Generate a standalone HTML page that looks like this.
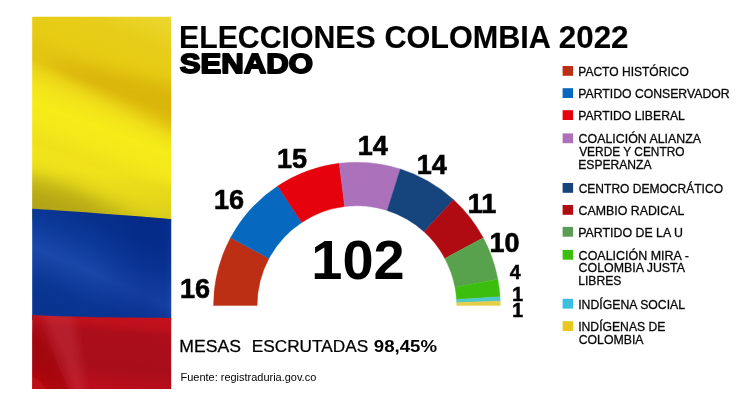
<!DOCTYPE html>
<html lang="es"><head><meta charset="utf-8"><title>Elecciones Colombia 2022 - Senado</title>
<style>
html,body{margin:0;padding:0;background:#fff;}
body{width:750px;height:413px;overflow:hidden;}
svg{display:block;}
text{font-family:"Liberation Sans",Arial,Helvetica,sans-serif;fill:#000;white-space:pre;}
.b{font-weight:bold;}
</style></head><body>
<svg width="750" height="413" viewBox="0 0 750 413">
<defs>
<linearGradient id="gy" gradientUnits="userSpaceOnUse" x1="49.9" y1="-30.7" x2="-39.7" y2="202.7"><stop offset="0.000" stop-color="#ecd832"/><stop offset="0.140" stop-color="#e7cd18"/><stop offset="0.240" stop-color="#e7cc14"/><stop offset="0.320" stop-color="#e3c512"/><stop offset="0.360" stop-color="#e3c512"/><stop offset="0.400" stop-color="#ecd618"/><stop offset="0.448" stop-color="#f2e21a"/><stop offset="0.520" stop-color="#f5ec18"/><stop offset="0.592" stop-color="#f4e81a"/><stop offset="0.664" stop-color="#efe01a"/><stop offset="0.768" stop-color="#f6ea1e"/><stop offset="0.840" stop-color="#eee01e"/><stop offset="0.904" stop-color="#e6d820"/><stop offset="1.000" stop-color="#e0d022"/></linearGradient>
<linearGradient id="gb" gradientUnits="userSpaceOnUse" x1="53.5" y1="157.4" x2="-12.9" y2="313.9"><stop offset="0.000" stop-color="#062c8a"/><stop offset="0.253" stop-color="#08328f"/><stop offset="0.371" stop-color="#0c3a9a"/><stop offset="0.465" stop-color="#1442a4"/><stop offset="0.535" stop-color="#1a48aa"/><stop offset="0.618" stop-color="#123fa0"/><stop offset="0.712" stop-color="#0a3694"/><stop offset="0.841" stop-color="#083490"/><stop offset="1.000" stop-color="#0a3696"/></linearGradient>
<linearGradient id="gr" gradientUnits="userSpaceOnUse" x1="33.0" y1="303.0" x2="25.0" y2="394.7"><stop offset="0.000" stop-color="#c6111d"/><stop offset="0.152" stop-color="#be101c"/><stop offset="0.239" stop-color="#ac0e1a"/><stop offset="0.609" stop-color="#a80e1a"/><stop offset="0.761" stop-color="#b40d1b"/><stop offset="1.000" stop-color="#c60e1c"/></linearGradient>
<clipPath id="fc"><rect x="32.2" y="16.8" width="139" height="372.1"/></clipPath>
<clipPath id="rc"><path d="M32 315 C55 316.5 95 317.3 172 318 L172 390 L32 390 Z"/></clipPath>
<linearGradient id="gol" gradientUnits="userSpaceOnUse" x1="100" y1="172" x2="97" y2="213.2"><stop offset="0" stop-color="#82730f" stop-opacity="0"/><stop offset="0.5" stop-color="#82730f" stop-opacity="0.1"/><stop offset="1" stop-color="#82730f" stop-opacity="0.24"/></linearGradient>
<linearGradient id="gbx" x1="0" y1="0" x2="1" y2="0"><stop offset="0" stop-color="#002080" stop-opacity="0"/><stop offset="0.45" stop-color="#002080" stop-opacity="0.05"/><stop offset="0.8" stop-color="#002080" stop-opacity="0.32"/><stop offset="0.95" stop-color="#002080" stop-opacity="0.25"/><stop offset="1" stop-color="#1040a0" stop-opacity="0.25"/></linearGradient>
<filter id="bl2" x="-50%" y="-100%" width="200%" height="300%"><feGaussianBlur stdDeviation="7"/></filter>
<filter id="bl3" x="-40%" y="-100%" width="180%" height="300%"><feGaussianBlur stdDeviation="11"/></filter>
<filter id="bl" x="-20%" y="-20%" width="140%" height="140%"><feGaussianBlur stdDeviation="4"/></filter>
</defs>
<rect width="750" height="413" fill="#fff"/>
<g clip-path="url(#fc)">
<rect x="32" y="16" width="140" height="205" fill="url(#gy)"/>
<path d="M55 61 L185 86 L185 140 L55 69 Z" fill="#cda000" opacity="0.4" filter="url(#bl2)"/>
<path d="M32 162 L172 172 L172 222 L32 212 Z" fill="url(#gol)"/>
<path d="M10 168 L70 184 L140 222 L10 222 Z" fill="#82730f" opacity="0.4" filter="url(#bl3)"/>
<path d="M32 208.8 C60 210.5 100 213.2 172 219.2 L172 320 L32 320 Z" fill="url(#gb)"/>
<path d="M32 208.8 C60 210.5 100 213.2 172 219.2 L172 320 L32 320 Z" fill="url(#gbx)"/>
<path d="M32 315 C55 316.5 95 317.3 172 318 L172 390 L32 390 Z" fill="url(#gr)"/>
<g clip-path="url(#rc)"><g filter="url(#bl)">
<path d="M40 308 L72 308 L86 396 L76 396 Z" fill="#cc3a44" opacity="0.36"/>
<path d="M20 326 L40 332 L76 398 L20 398 Z" fill="#9c0408" opacity="0.5"/>
<path d="M20 372 L40 380 L52 398 L20 398 Z" fill="#d01018" opacity="0.5"/>
</g></g>
</g>
<path d="M213.50 305.60A143.4 143.4 0 0 1 230.56 237.76L268.97 258.39A99.8 99.8 0 0 0 257.10 305.60Z" fill="#bd2f14" stroke="#bd2f14" stroke-width="0.4"/>
<path d="M230.56 237.76A143.4 143.4 0 0 1 277.69 186.06L301.77 222.41A99.8 99.8 0 0 0 268.97 258.39Z" fill="#0668be" stroke="#0668be" stroke-width="0.4"/>
<path d="M277.69 186.06A143.4 143.4 0 0 1 339.28 163.29L344.64 206.56A99.8 99.8 0 0 0 301.77 222.41Z" fill="#e5020d" stroke="#e5020d" stroke-width="0.4"/>
<path d="M339.28 163.29A143.4 143.4 0 0 1 400.37 168.95L387.15 210.50A99.8 99.8 0 0 0 344.64 206.56Z" fill="#ab72bb" stroke="#ab72bb" stroke-width="0.4"/>
<path d="M400.37 168.95A143.4 143.4 0 0 1 453.51 199.63L424.13 231.85A99.8 99.8 0 0 0 387.15 210.50Z" fill="#16447c" stroke="#16447c" stroke-width="0.4"/>
<path d="M453.51 199.63A143.4 143.4 0 0 1 483.24 237.76L444.83 258.39A99.8 99.8 0 0 0 424.13 231.85Z" fill="#b00a13" stroke="#b00a13" stroke-width="0.4"/>
<path d="M483.24 237.76A143.4 143.4 0 0 1 497.86 279.25L455.00 287.26A99.8 99.8 0 0 0 444.83 258.39Z" fill="#58a24d" stroke="#58a24d" stroke-width="0.4"/>
<path d="M497.86 279.25A143.4 143.4 0 0 1 500.03 296.77L456.51 299.46A99.8 99.8 0 0 0 455.00 287.26Z" fill="#3cbe0e" stroke="#3cbe0e" stroke-width="0.4"/>
<path d="M500.03 296.77A143.4 143.4 0 0 1 500.23 301.18L456.65 302.53A99.8 99.8 0 0 0 456.51 299.46Z" fill="#4fc8c8" stroke="#4fc8c8" stroke-width="0.4"/>
<path d="M500.23 301.18A143.4 143.4 0 0 1 500.30 305.60L456.70 305.60A99.8 99.8 0 0 0 456.65 302.53Z" fill="#e6cf45" stroke="#e6cf45" stroke-width="0.4"/>
<rect x="562.6" y="66.0" width="10.5" height="9.8" fill="#bd2f14"/>
<rect x="562.6" y="88.2" width="10.5" height="9.8" fill="#0668be"/>
<rect x="562.6" y="110.2" width="10.5" height="9.8" fill="#e5020d"/>
<rect x="562.6" y="133.4" width="10.5" height="9.8" fill="#ab72bb"/>
<rect x="562.6" y="183.0" width="10.5" height="9.8" fill="#16447c"/>
<rect x="562.6" y="205.0" width="10.5" height="9.8" fill="#b00a13"/>
<rect x="562.6" y="226.9" width="10.5" height="9.8" fill="#5a9c56"/>
<rect x="562.6" y="249.9" width="10.5" height="9.8" fill="#3cbe0e"/>
<rect x="562.6" y="298.8" width="10.5" height="9.8" fill="#3bbfe0"/>
<rect x="562.6" y="321.2" width="10.5" height="9.8" fill="#e8c820"/>
<text font-size="13.0" transform="translate(578.28 75.8) scale(0.9265 1)" stroke="#111" stroke-width="0.3" fill="#111">PACTO HISTÓRICO</text>
<text font-size="13.0" transform="translate(578.26 98.0) scale(0.9422 1)" stroke="#111" stroke-width="0.3" fill="#111">PARTIDO CONSERVADOR</text>
<text font-size="13.0" transform="translate(578.26 120.0) scale(0.9388 1)" stroke="#111" stroke-width="0.3" fill="#111">PARTIDO LIBERAL</text>
<text font-size="13.0" transform="translate(578.62 143.2) scale(0.9523 1)" stroke="#111" stroke-width="0.3" fill="#111">COALICIÓN ALIANZA</text>
<text font-size="13.0" transform="translate(579.18 155.9) scale(0.9163 1)" stroke="#111" stroke-width="0.3" fill="#111">VERDE Y CENTRO</text>
<text font-size="13.0" transform="translate(578.27 168.5) scale(0.9324 1)" stroke="#111" stroke-width="0.3" fill="#111">ESPERANZA</text>
<text font-size="13.0" transform="translate(578.64 192.8) scale(0.9265 1)" stroke="#111" stroke-width="0.3" fill="#111">CENTRO DEMOCRÁTICO</text>
<text font-size="13.0" transform="translate(578.62 214.8) scale(0.9513 1)" stroke="#111" stroke-width="0.3" fill="#111">CAMBIO RADICAL</text>
<text font-size="13.0" transform="translate(578.25 236.7) scale(0.9517 1)" stroke="#111" stroke-width="0.3" fill="#111">PARTIDO DE LA U</text>
<text font-size="13.0" transform="translate(578.62 259.7) scale(0.9603 1)" stroke="#111" stroke-width="0.3" fill="#111">COALICIÓN MIRA -</text>
<text font-size="13.0" transform="translate(578.62 272.4) scale(0.9531 1)" stroke="#111" stroke-width="0.3" fill="#111">COLOMBIA JUSTA</text>
<text font-size="13.0" transform="translate(578.27 285.0) scale(0.9312 1)" stroke="#111" stroke-width="0.3" fill="#111">LIBRES</text>
<text font-size="13.0" transform="translate(578.14 308.6) scale(0.9447 1)" stroke="#111" stroke-width="0.3" fill="#111">INDÍGENA SOCIAL</text>
<text font-size="13.0" transform="translate(578.14 331.0) scale(0.9384 1)" stroke="#111" stroke-width="0.3" fill="#111">INDÍGENAS DE</text>
<text font-size="13.0" transform="translate(578.63 343.5) scale(0.9469 1)" stroke="#111" stroke-width="0.3" fill="#111">COLOMBIA</text>
<text class="b" font-size="32.2" transform="translate(179.00 47.7) scale(0.9400 1)" stroke="#000" stroke-width="0.15" >ELECCIONES</text>
<text class="b" font-size="32.2" transform="translate(384.45 47.7) scale(0.9502 1)" stroke="#000" stroke-width="0.15" >COLOMBIA</text>
<text class="b" font-size="32.2" transform="translate(558.77 47.7) scale(0.9743 1)" stroke="#000" stroke-width="0.15" >2022</text>
<text class="b" font-size="27.5" transform="translate(179.68 73.3) scale(1.1325 1)" stroke="#000" stroke-width="1.8" stroke-linejoin="round">SENADO</text>
<text font-size="17" transform="translate(179.32 351.9) scale(1.0360 1)" stroke="#000" stroke-width="0.25" >MESAS</text>
<text font-size="17" transform="translate(251.75 351.9) scale(1.0129 1)" stroke="#000" stroke-width="0.25" >ESCRUTADAS</text>
<text class="b" font-size="17" transform="translate(373.75 351.9) scale(1.0987 1)" >98,45%</text>
<text font-size="10.8" transform="translate(180.52 381) scale(1.0170 1)" >Fuente: registraduria.gov.co</text>
<text class="b" font-size="55.5" transform="translate(311.26 279.3) scale(1.0085 1)" >102</text>
<text class="b" font-size="27" transform="translate(180.06 298.4) scale(1.0000 1)" stroke="#000" stroke-width="0.6" >16</text>
<text class="b" font-size="27" transform="translate(213.96 208.8) scale(1.0000 1)" stroke="#000" stroke-width="0.6" >16</text>
<text class="b" font-size="27" transform="translate(276.98 167.9) scale(1.0000 1)" stroke="#000" stroke-width="0.6" >15</text>
<text class="b" font-size="27" transform="translate(357.70 154.8) scale(1.0000 1)" stroke="#000" stroke-width="0.6" >14</text>
<text class="b" font-size="27" transform="translate(416.70 173.8) scale(1.0000 1)" stroke="#000" stroke-width="0.6" >14</text>
<text class="b" font-size="27" transform="translate(467.82 213.4) scale(1.0000 1)" stroke="#000" stroke-width="0.6" >11</text>
<text class="b" font-size="27" transform="translate(489.53 252.3) scale(1.0000 1)" stroke="#000" stroke-width="0.6" >10</text>
<text class="b" font-size="19.5" transform="translate(509.64 279.0) scale(1.0000 1)" stroke="#000" stroke-width="0.5" >4</text>
<text class="b" font-size="19.5" transform="translate(512.25 301.0) scale(1.0000 1)" stroke="#000" stroke-width="0.5" >1</text>
<text class="b" font-size="19.5" transform="translate(512.25 316.6) scale(1.0000 1)" stroke="#000" stroke-width="0.5" >1</text>
</svg>
</body></html>
